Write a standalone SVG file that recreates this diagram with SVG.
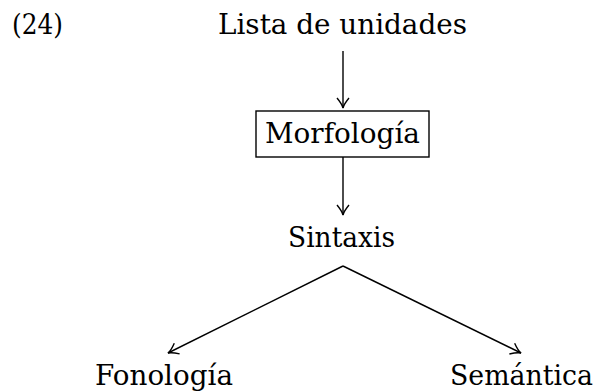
<svg xmlns="http://www.w3.org/2000/svg" width="595" height="392" viewBox="0 0 595 392">
<style>
text{font-family:"DejaVu Serif","Liberation Serif",serif;font-size:27px;fill:#000}
.c{stroke:#000;stroke-width:1.4;fill:none}
</style>
<defs>
<marker id="ah" viewBox="-11 -7 13 14" refX="0" refY="0" markerWidth="13" markerHeight="14" markerUnits="userSpaceOnUse" orient="auto">
<path d="M-10,-6 Q-4,-1 0,0 Q-4,1 -10,6" fill="none" stroke="#000" stroke-width="1.4"/>
</marker>
</defs>
<text x="12" y="34" textLength="51" lengthAdjust="spacingAndGlyphs">(24)</text>
<g id="lista"><text x="218" y="34" textLength="249" lengthAdjust="spacingAndGlyphs">Lista de unidades</text></g>
<g id="morfologia"><rect x="256" y="111" width="173" height="46" fill="none" stroke="#000" stroke-width="1.4"/><text x="265" y="143" textLength="155" lengthAdjust="spacingAndGlyphs">Morfología</text></g>
<g id="sintaxis"><text x="288" y="247" textLength="107" lengthAdjust="spacingAndGlyphs">Sintaxis</text></g>
<g id="fonologia"><text x="95" y="385" textLength="138" lengthAdjust="spacingAndGlyphs">Fonología</text></g>
<g id="semantica"><text x="450" y="385" textLength="143" lengthAdjust="spacingAndGlyphs">Semántica</text></g>
<g id="connectors">
<line class="c" x1="343" y1="51" x2="343" y2="108" marker-end="url(#ah)"/>
<line class="c" x1="343" y1="157" x2="343" y2="215" marker-end="url(#ah)"/>
<line class="c" x1="343" y1="266" x2="168" y2="353" marker-end="url(#ah)"/>
<line class="c" x1="343" y1="266" x2="521" y2="353" marker-end="url(#ah)"/>
</g>
</svg>
